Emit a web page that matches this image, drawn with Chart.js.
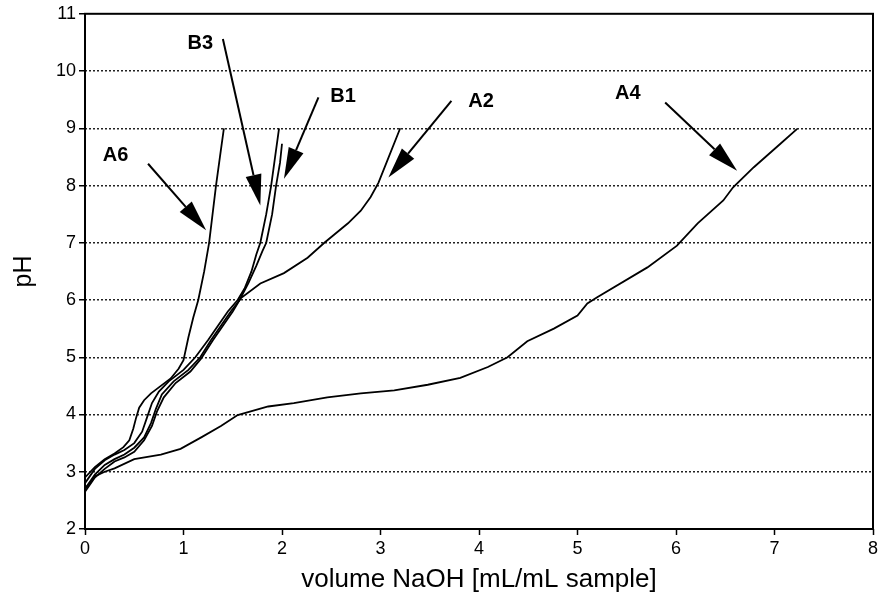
<!DOCTYPE html>
<html><head><meta charset="utf-8">
<script src="https://cdn.jsdelivr.net/npm/chart.js@4/dist/chart.umd.min.js"></script>
<style>html,body{margin:0;padding:0;background:#fff;}</style>
</head><body>
<canvas id="c" width="884" height="604"></canvas>
<script>
// ---- data (volume NaOH [mL/mL sample] vs pH) ----
const seriesNames = ['A6', 'B3', 'B1', 'A2', 'A4'];

const a6X = [0, 0.1, 0.2, 0.3, 0.39, 0.45, 0.49, 0.52, 0.55, 0.6, 0.67, 0.77, 0.87, 0.95, 1.0, 1.05, 1.1, 1.15, 1.21, 1.26, 1.33, 1.37, 1.41];
const a6Y = [2.9, 3.08, 3.22, 3.32, 3.43, 3.55, 3.75, 3.95, 4.12, 4.25, 4.37, 4.5, 4.63, 4.8, 4.95, 5.35, 5.7, 6.0, 6.5, 7.0, 8.0, 8.5, 9.0];

const b3X = [0, 0.1, 0.2, 0.3, 0.4, 0.5, 0.58, 0.63, 0.68, 0.75, 0.85, 1.0, 1.12, 1.25, 1.35, 1.45, 1.55, 1.62, 1.69, 1.74, 1.78, 1.84, 1.89, 1.93, 1.97];
const b3Y = [2.8, 3.05, 3.2, 3.3, 3.38, 3.5, 3.7, 3.95, 4.2, 4.4, 4.58, 4.78, 5.0, 5.3, 5.55, 5.8, 6.0, 6.2, 6.5, 6.8, 7.0, 7.5, 8.0, 8.5, 9.0];

const b1X = [0, 0.1, 0.2, 0.3, 0.4, 0.5, 0.6, 0.67, 0.72, 0.78, 0.9, 1.05, 1.17, 1.28, 1.38, 1.48, 1.57, 1.66, 1.74, 1.8, 1.84, 1.9, 1.94, 1.98, 2.0];
const b1Y = [2.7, 2.95, 3.12, 3.22, 3.3, 3.42, 3.6, 3.85, 4.1, 4.35, 4.58, 4.78, 5.0, 5.3, 5.55, 5.8, 6.0, 6.3, 6.6, 6.85, 7.0, 7.5, 8.0, 8.4, 8.73];

const a2X = [0, 0.1, 0.2, 0.3, 0.4, 0.5, 0.6, 0.68, 0.73, 0.8, 0.92, 1.07, 1.18, 1.3, 1.4, 1.5, 1.58, 1.78, 2.02, 2.26, 2.43, 2.67, 2.8, 2.9, 2.98, 3.07, 3.2];
const a2Y = [2.65, 2.9, 3.05, 3.18, 3.25, 3.35, 3.55, 3.8, 4.05, 4.3, 4.55, 4.75, 4.98, 5.3, 5.55, 5.8, 6.03, 6.29, 6.47, 6.74, 7.0, 7.34, 7.56, 7.8, 8.05, 8.44, 9.0];

const a4X = [0, 0.1, 0.2, 0.3, 0.5, 0.77, 0.97, 1.18, 1.38, 1.55, 1.86, 2.12, 2.46, 2.8, 3.14, 3.48, 3.81, 4.09, 4.29, 4.49, 4.76, 5.0, 5.1, 5.2, 5.71, 6.01, 6.22, 6.48, 6.58, 6.79, 7.06, 7.23];
const a4Y = [2.7, 2.92, 3.0, 3.06, 3.22, 3.3, 3.4, 3.6, 3.8, 3.99, 4.14, 4.2, 4.3, 4.37, 4.42, 4.52, 4.64, 4.83, 5.0, 5.28, 5.5, 5.73, 5.94, 6.05, 6.57, 6.95, 7.34, 7.74, 7.97, 8.32, 8.73, 8.99];

// annotation labels and arrows (data coordinates)
const labelText = ['B3', 'A6', 'B1', 'A2', 'A4'];
const labelX = [1.17, 0.31, 2.62, 4.02, 5.51];
const labelY = [10.48, 8.52, 9.55, 9.47, 9.6];
const arrowFromX = [1.40, 0.64, 2.37, 3.72, 5.89];
const arrowFromY = [10.56, 8.38, 9.54, 9.48, 9.45];
const arrowToX = [1.78, 1.23, 2.02, 3.08, 6.62];
const arrowToY = [7.65, 7.22, 8.12, 8.14, 8.26];

const xAxisTitle = 'volume NaOH [mL/mL sample]';
const yAxisTitle = 'pH';

// ---- build ----
const seriesX = [a6X, b3X, b1X, a2X, a4X];
const seriesY = [a6Y, b3Y, b1Y, a2Y, a4Y];
const FONT = "'Liberation Sans', Arial, Helvetica, sans-serif";

const datasets = seriesNames.map((n, i) => ({
  label: n,
  data: seriesX[i].map((x, j) => ({x: x, y: seriesY[i][j]})),
  borderColor: '#000',
  borderWidth: 1.8,
  pointRadius: 0,
  tension: 0,
  fill: false
}));

const framePlugin = {
  id: 'frame',
  afterDraw(chart) {
    const a = chart.chartArea, ctx = chart.ctx;
    ctx.save();
    ctx.strokeStyle = '#000';
    ctx.lineWidth = 2;
    ctx.strokeRect(a.left, a.top, a.right - a.left, a.bottom - a.top);
    ctx.restore();
  }
};

const annotPlugin = {
  id: 'annot',
  afterDatasetsDraw(chart) {
    const ctx = chart.ctx, xs = chart.scales.x, ys = chart.scales.y;
    ctx.save();
    ctx.fillStyle = '#000';
    ctx.strokeStyle = '#000';
    ctx.font = 'bold 20px ' + FONT;
    ctx.textAlign = 'center';
    ctx.textBaseline = 'middle';
    labelText.forEach((t, i) => {
      ctx.fillText(t, xs.getPixelForValue(labelX[i]), ys.getPixelForValue(labelY[i]));
    });
    for (let i = 0; i < arrowFromX.length; i++) {
      const x1 = xs.getPixelForValue(arrowFromX[i]), y1 = ys.getPixelForValue(arrowFromY[i]);
      const x2 = xs.getPixelForValue(arrowToX[i]), y2 = ys.getPixelForValue(arrowToY[i]);
      const dx = x2 - x1, dy = y2 - y1, L = Math.hypot(dx, dy);
      const ux = dx / L, uy = dy / L;
      const headLen = 31, headHalf = 8;
      const bx = x2 - ux * headLen, by = y2 - uy * headLen;
      ctx.lineWidth = 2;
      ctx.beginPath();
      ctx.moveTo(x1, y1);
      ctx.lineTo(bx, by);
      ctx.stroke();
      ctx.beginPath();
      ctx.moveTo(x2, y2);
      ctx.lineTo(bx - uy * headHalf, by + ux * headHalf);
      ctx.lineTo(bx + uy * headHalf, by - ux * headHalf);
      ctx.closePath();
      ctx.fill();
    }
    ctx.restore();
  }
};

new Chart(document.getElementById('c'), {
  type: 'line',
  data: {datasets: datasets},
  options: {
    responsive: false,
    animation: false,
    devicePixelRatio: 1,
    layout: {padding: {left: 5, right: 11, top: 13, bottom: 5}},
    plugins: {legend: {display: false}, tooltip: {enabled: false}},
    scales: {
      x: {
        type: 'linear', min: 0, max: 8,
        ticks: {stepSize: 1, color: '#000', font: {family: FONT, size: 18}, padding: 3, maxRotation: 0},
        grid: {display: true, drawOnChartArea: false, drawTicks: true, tickLength: 6, tickColor: '#000', tickWidth: 1.5},
        border: {display: false},
        title: {display: true, text: xAxisTitle, color: '#000', font: {family: FONT, size: 26}, padding: {top: 4, bottom: 4}},
        afterFit(s) { s.height = 70; }
      },
      y: {
        type: 'linear', min: 2, max: 11,
        ticks: {stepSize: 1, color: '#000', font: {family: FONT, size: 18}, padding: 3},
        grid: {
          display: true, drawOnChartArea: true, drawTicks: true, tickLength: 6,
          tickColor: '#000', tickWidth: 1.5, lineWidth: 1.5,
          color: (c) => (c.tick && (c.tick.value === 2 || c.tick.value === 11)) ? 'rgba(0,0,0,0)' : '#222'
        },
        border: {display: false, dash: [2, 2]},
        title: {display: true, text: yAxisTitle, color: '#000', font: {family: FONT, size: 25}, padding: {top: 4, bottom: 4}},
        afterFit(s) { s.width = 80; }
      }
    }
  },
  plugins: [framePlugin, annotPlugin]
});
</script>
</body></html>
